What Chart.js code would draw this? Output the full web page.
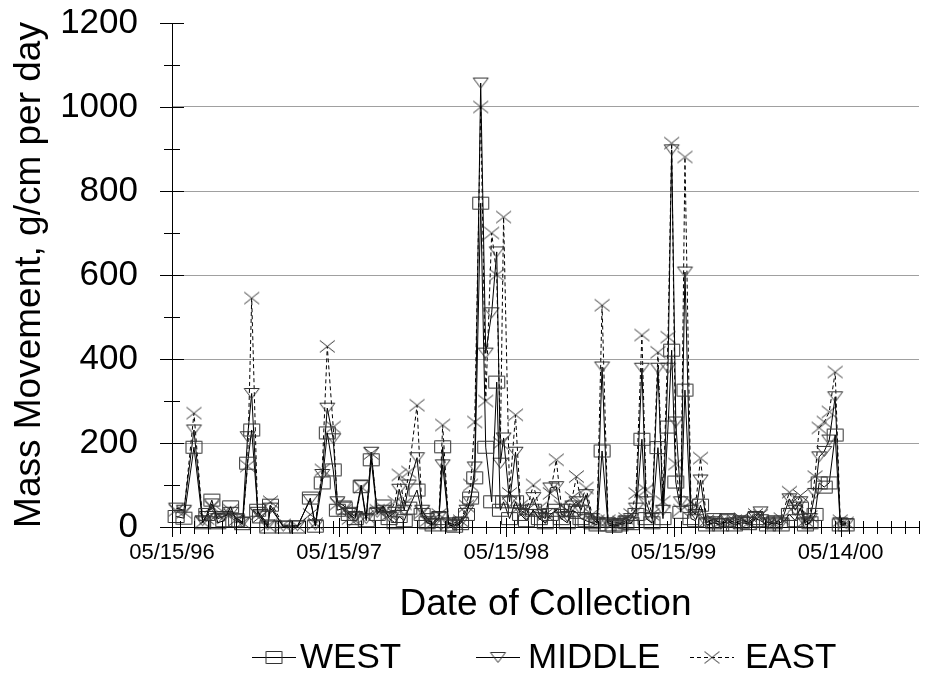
<!DOCTYPE html>
<html lang="en">
<head>
<meta charset="UTF-8">
<title>Mass Movement</title>
<script src="https://cdn.jsdelivr.net/npm/chart.js"></script>
<style>
  html, body { margin: 0; padding: 0; background: #fff; }
</style>
</head>
<body>
<canvas id="chart" width="926" height="677"></canvas>
<script>
// collection dates (MM/DD/YY) and values for each site, g/cm per day
const dates = [
  '05/24/96','06/10/96','07/02/96','07/21/96','07/30/96','08/10/96','08/23/96','09/05/96','09/20/96','10/03/96',
  '10/16/96','10/27/96','11/05/96','11/18/96','11/24/96','12/10/96','12/16/96','01/13/97','02/13/97','03/13/97',
  '03/24/97','04/08/97','04/19/97','05/02/97','05/11/97','05/26/97','06/06/97','06/19/97','07/02/97','07/13/97',
  '07/24/97','08/06/97','08/19/97','09/01/97','09/14/97','09/23/97','10/04/97','10/14/97','11/01/97','11/12/97',
  '11/23/97','12/06/97','12/19/97','12/27/97','01/09/98','01/22/98','02/04/98','02/17/98','02/26/98','03/07/98',
  '03/20/98','03/31/98','04/13/98','04/24/98','05/02/98','05/09/98','05/22/98','06/04/98','06/15/98','06/28/98',
  '07/13/98','07/26/98','08/08/98','08/19/98','09/01/98','09/12/98','09/25/98','10/06/98','10/15/98','10/25/98',
  '11/05/98','11/18/98','11/29/98','12/10/98','12/23/98','01/05/99','01/18/99','01/31/99','02/11/99','02/22/99',
  '03/07/99','03/16/99','03/29/99','04/11/99','04/22/99','05/03/99','05/11/99','05/20/99','05/31/99','06/09/99',
  '06/22/99','07/02/99','07/13/99','07/26/99','08/11/99','08/26/99','09/10/99','09/25/99','10/10/99','10/26/99',
  '11/10/99','11/21/99','12/06/99','12/21/99','01/05/00','01/23/00','02/05/00','02/16/00','02/27/00','03/08/00',
  '03/19/00','03/28/00','04/08/00','04/19/00','05/02/00','05/13/00','05/26/00'
];
const west = [
  25,21,190,10,30,64,10,15,48,15,
  8,152,231,40,24,0,52,0,0,69,
  2,105,224,136,40,45,30,20,96,15,
  160,30,50,20,10,25,15,45,88,30,
  10,5,20,191,5,2,8,30,69,117,
  771,190,60,345,40,60,20,60,30,15,
  40,20,10,30,40,20,10,40,35,20,
  15,10,5,181,5,2,5,10,8,30,
  209,20,10,189,20,238,421,107,35,326,
  20,15,52,5,10,5,15,5,10,8,
  20,15,5,10,5,30,15,45,5,10,
  30,105,95,105,219,5,5
];
const middle = [
  45,40,231,15,25,55,20,25,35,20,
  12,215,318,35,30,5,45,2,3,65,
  5,125,283,210,60,50,35,25,100,20,
  178,35,40,25,35,90,40,100,165,40,
  20,8,25,148,10,5,12,40,60,143,
  1057,414,510,655,152,212,60,178,40,30,
  70,30,20,93,96,30,25,50,60,40,
  77,20,10,381,10,5,8,15,20,45,
  378,60,20,378,40,378,898,250,60,607,
  40,30,112,10,20,8,20,10,15,12,
  25,36,10,15,10,67,40,60,10,20,
  80,167,180,207,310,10,8
];
const east = [
  40,35,271,12,20,48,30,35,40,18,
  10,145,545,30,25,3,60,5,2,30,
  8,136,430,238,55,40,20,15,95,25,
  175,40,45,30,60,124,55,131,290,35,
  15,10,30,243,8,10,15,50,100,250,
  1000,300,700,600,200,738,80,267,50,40,
  100,45,30,80,160,50,40,70,120,60,
  93,30,15,528,15,10,12,20,30,80,
  457,88,30,416,60,452,914,150,40,881,
  60,50,164,15,15,12,10,15,20,10,
  30,28,12,8,20,83,50,75,15,25,
  120,236,250,274,369,15,10
];
const tickLabels = ['05/15/96', '05/15/97', '05/15/98', '05/15/99', '05/14/00'];
const axisStart = '05/15/96';
const axisEnd = '11/01/00';

const FONT = "'Liberation Sans', Arial, sans-serif";

function toUTC(s) {
  const [m, d, y] = s.split('/').map(Number);
  return Date.UTC(y < 50 ? 2000 + y : 1900 + y, m - 1, d);
}
const base = toUTC(axisStart);
function toDay(s) {
  return Math.round((toUTC(s) - base) / 86400000);
}

// marker images (Excel markers come out a bit wider than tall here)
function marker(kind) {
  const c = document.createElement('canvas');
  c.width = 19; c.height = 15;
  const g = c.getContext('2d');
  g.strokeStyle = '#333';
  g.lineWidth = 1;
  g.beginPath();
  if (kind === 'square') {
    g.rect(1.5, 1.5, 16, 12);
  } else if (kind === 'tri') {
    g.moveTo(2, 2.5); g.lineTo(17, 2.5); g.lineTo(9.5, 12.5); g.closePath();
  } else {
    g.moveTo(2, 1.5); g.lineTo(17, 13.5);
    g.moveTo(17, 1.5); g.lineTo(2, 13.5);
  }
  g.stroke();
  return c;
}
const markers = { WEST: marker('square'), MIDDLE: marker('tri'), EAST: marker('x') };

function series(vals) {
  return dates.map((d, i) => ({ x: toDay(d), y: vals[i] }));
}

// cross tick marks on both axes
const tickMarks = {
  id: 'tickMarks',
  afterDatasetsDraw(chart) {
    const { ctx, scales: { x, y } } = chart;
    ctx.save();
    ctx.strokeStyle = '#000';
    ctx.lineWidth = 1;
    ctx.beginPath();
    for (let v = 0; v <= 1200; v += 100) {
      const py = Math.round(y.getPixelForValue(v)) + 0.5;
      const len = v % 200 === 0 ? 12 : 8;
      ctx.moveTo(x.left - len, py);
      ctx.lineTo(x.left + len, py);
    }
    const py0 = y.bottom;
    // minor: first of every month
    const start = new Date(base);
    for (let yr = start.getUTCFullYear(), mo = start.getUTCMonth() + 1; ; mo++) {
      const t = Date.UTC(yr, mo, 1);
      const day = (t - base) / 86400000;
      if (day > x.max) break;
      const px = Math.round(x.getPixelForValue(day)) + 0.5;
      ctx.moveTo(px, py0 - 6);
      ctx.lineTo(px, py0 + 7);
    }
    tickLabels.forEach(l => {
      const px = Math.round(x.getPixelForValue(toDay(l))) + 0.5;
      ctx.moveTo(px, py0 - 9);
      ctx.lineTo(px, py0 + 10);
    });
    ctx.stroke();
    ctx.restore();
  }
};

// legend drawn like the Excel one: short line + marker, then the name
const legendSym = [252, 476, 690];
const legendText = [300, 528, 745];
const excelLegend = {
  id: 'excelLegend',
  afterDraw(chart) {
    const { ctx } = chart;
    const ly = 657;
    ctx.save();
    chart.data.datasets.forEach((ds, i) => {
      const x0 = legendSym[i];
      ctx.strokeStyle = '#000';
      ctx.lineWidth = 1;
      ctx.setLineDash(ds.borderDash || []);
      ctx.beginPath();
      ctx.moveTo(x0, ly + 0.5);
      ctx.lineTo(x0 + 44, ly + 0.5);
      ctx.stroke();
      ctx.setLineDash([]);
      const img = markers[ds.label];
      ctx.drawImage(img, x0 + 22 - img.width / 2, ly - img.height / 2 + 0.5);
      ctx.fillStyle = '#000';
      ctx.font = '35px ' + FONT;
      ctx.textBaseline = 'middle';
      ctx.textAlign = 'left';
      ctx.fillText(ds.label, legendText[i], ly + 1);
    });
    ctx.restore();
  }
};

new Chart(document.getElementById('chart'), {
  type: 'line',
  data: {
    datasets: [
      { label: 'WEST', data: series(west), borderColor: '#000', borderWidth: 1,
        pointStyle: markers.WEST, pointRadius: 6, clip: false },
      { label: 'MIDDLE', data: series(middle), borderColor: '#000', borderWidth: 1,
        pointStyle: markers.MIDDLE, pointRadius: 6, clip: false },
      { label: 'EAST', data: series(east), borderColor: '#000', borderWidth: 1, borderDash: [4, 3],
        pointStyle: markers.EAST, pointRadius: 6, clip: false }
    ]
  },
  options: {
    responsive: false,
    animation: false,
    layout: { padding: { left: 0, right: 4, top: 23, bottom: 47 } },
    plugins: {
      legend: { display: false },
      tooltip: { enabled: false }
    },
    elements: { line: { tension: 0 } },
    scales: {
      x: {
        type: 'linear',
        min: toDay(axisStart),
        max: toDay(axisEnd),
        afterBuildTicks: s => { s.ticks = tickLabels.map(l => ({ value: toDay(l) })); },
        afterFit: s => { s.height = 103; s.paddingLeft = 0; s.paddingRight = 0; },
        ticks: {
          callback: (v, i) => tickLabels[i],
          autoSkip: false,
          maxRotation: 0,
          padding: 13,
          color: '#000',
          font: { family: FONT, size: 22 }
        },
        grid: { display: false, drawTicks: false },
        border: { display: true, color: '#000', width: 1 },
        title: {
          display: true,
          text: 'Date of Collection',
          color: '#000',
          font: { family: FONT, size: 37 },
          padding: { top: 0, bottom: 3 }
        }
      },
      y: {
        min: 0,
        max: 1200,
        afterFit: s => { s.width = 172; s.paddingTop = 0; s.paddingBottom = 0; },
        ticks: {
          stepSize: 200,
          padding: 34,
          color: '#000',
          font: { family: FONT, size: 35 },
          callback: v => String(v)
        },
        grid: {
          drawTicks: false,
          color: c => (c.tick && (c.tick.value === 0 || c.tick.value === 1200)) ? 'rgba(0,0,0,0)' : '#a0a0a0'
        },
        border: { display: true, color: '#000', width: 1 },
        title: {
          display: true,
          text: 'Mass Movement, g/cm per day',
          color: '#000',
          font: { family: FONT, size: 37 },
          padding: { top: 8, bottom: 0 }
        }
      }
    }
  },
  plugins: [tickMarks, excelLegend]
});
</script>
</body>
</html>
